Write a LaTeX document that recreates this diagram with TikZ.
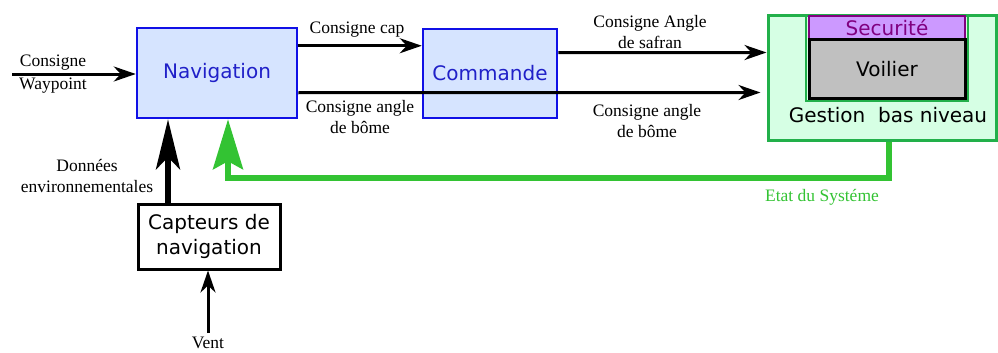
\documentclass[tikz,border=0pt]{standalone}
\usepackage{fontspec}
\setmainfont{Liberation Serif}
\newfontfamily\boxfont{DejaVu Sans}
\usetikzlibrary{arrows.meta,calc}
\definecolor{navfill}{HTML}{D6E4FF}
\definecolor{navline}{HTML}{1010E6}
\definecolor{navtext}{HTML}{2020C8}
\definecolor{gfill}{HTML}{D6FFE4}
\definecolor{gline}{HTML}{33C333}
\definecolor{gbox}{HTML}{22B04A}
\definecolor{secfill}{HTML}{CC99FF}
\definecolor{secline}{HTML}{800080}
\definecolor{voilfill}{HTML}{C0C0C0}
\tikzset{
  bluebox/.style={draw=navline,fill=navfill,line width=2.5pt,text=navtext,font=\boxfont\fontsize{20}{24}\selectfont,inner sep=0pt},
  blackbox/.style={draw=black,fill=white,line width=3pt,font=\boxfont\fontsize{20}{25}\selectfont,align=center,inner sep=0pt},
  lbl/.style={font=\fontsize{17.5}{21}\selectfont,align=center,inner sep=0pt},
  arr/.style={line width=3pt,-{Stealth[length=22pt,width=15pt,inset=7pt]}},
  bigarr/.style={line width=6pt,-{Stealth[length=50pt,width=24pt,inset=12pt]}},
  greenarr/.style={draw=gline,line width=5.5pt,-{Stealth[length=50pt,width=30pt,inset=8pt]}},
}
\begin{document}
\begin{tikzpicture}[x=1pt,y=-1pt]
\useasboundingbox (0,0) rectangle (998,353);
% boxes
\node[bluebox,minimum width=160pt,minimum height=90pt] (nav) at (217,73) {Navigation};
\node[bluebox,minimum width=134pt,minimum height=89pt] (com) at (490,73.5) {Commande};
\node[draw=gbox,fill=gfill,line width=3pt,minimum width=228pt,minimum height=124pt,inner sep=0pt] (ges) at (882,78) {};
\node[draw=gbox,line width=2pt,minimum width=162pt,minimum height=85pt,inner sep=0pt] (vgrp) at (887,58.5) {};
\node[draw=secline,fill=secfill,line width=2pt,minimum width=156pt,minimum height=23pt,inner sep=0pt,text=secline,font=\boxfont\fontsize{20}{22}\selectfont] (sec) at (887,27.5) {Securité};
\node[draw=black,fill=voilfill,line width=3pt,minimum width=156pt,minimum height=58pt,inner sep=0pt,font=\boxfont\fontsize{20}{24}\selectfont] (voil) at (887,69) {Voilier};
\node[font=\boxfont\fontsize{20}{24}\selectfont,inner sep=0pt] (gtxt) at (888,115) {Gestion\ \ bas niveau};
\node[blackbox,minimum width=142pt,minimum height=65pt] (cap) at (209,236.5) {Capteurs de\\navigation};
% coordinates
\coordinate (wp) at (12,74);
\coordinate (vent) at (208,333);
\coordinate (fbdown) at (889,178);
% arrows
\draw[arr] (wp) -- (nav.west |- wp);
\draw[arr] ($(nav.north east)+(0,19)$) -- ($(com.north west)+(0,18)$);
\draw[arr] ($(nav.north east)+(0,66)$) -- ($(ges.north west)+(-6,78)$);
\draw[arr] ($(com.north east)+(0,25)$) -- ($(ges.north west)+(0,38)$);
\draw[bigarr] (cap.north -| 168,0) -- (nav.south -| 168,0);
\draw[arr] (vent) -- (cap.south -| vent);
\draw[greenarr] (ges.south -| fbdown) -- (fbdown) -- (fbdown -| 228,0) -- (nav.south -| 228,0);
% labels
\node[lbl] (l1) at (53,63) {Consigne};
\node[lbl] (l2) at (53,86) {Waypoint};
\node[lbl] (l3) at (357,30) {Consigne cap};
\node[lbl] (l4) at (360,117.5) {Consigne angle\\de bôme};
\node[lbl] (l5) at (650,32.5) {Consigne Angle\\de safran};
\node[lbl] (l6) at (647,121) {Consigne angle\\de bôme};
\node[lbl] (l7) at (87,176) {Données\\environnementales};
\node[lbl,text=gline] (l8) at (822,197) {Etat du Systéme};
\node[lbl] (l9) at (208,343) {Vent};
\end{tikzpicture}
\end{document}
